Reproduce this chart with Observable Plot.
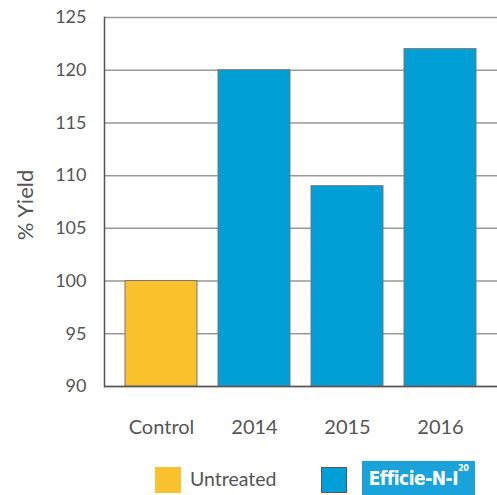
<!DOCTYPE html>
<html>
<head>
<meta charset="utf-8">
<script src="https://cdn.jsdelivr.net/npm/d3@7"></script>
<script src="https://cdn.jsdelivr.net/npm/@observablehq/plot@0.6"></script>
<style>
  html, body { margin: 0; padding: 0; background: #fff; }
  body { width: 497px; height: 495px; overflow: hidden; font-family: Lato, "Open Sans", sans-serif; }
  #legend { position: relative; height: 55px; }
  .sw { position: absolute; box-sizing: border-box; }
  .lt { position: absolute; font-size: 19.5px; color: #555; }
</style>
</head>
<body>
<div id="chart"></div>
<div id="legend">
  <div class="sw" style="left:155px; top:27px; width:26px; height:26px; background:#F9C12B;"></div>
  <div class="lt" style="left:190px; top:27px;">Untreated</div>
  <div class="sw" style="left:321px; top:27px; width:26px; height:26px; background:#00A0D6; border:1.5px solid #555;"></div>
  <div class="sw" style="left:362px; top:21px; width:113px; height:34px; background:#1AA3DA; color:#fff; font-family:'DejaVu Sans Condensed','Liberation Sans Narrow',sans-serif; font-weight:bold; font-size:19px; line-height:34px; text-align:center; letter-spacing:-0.5px;">Efficie-N-I<sup style="font-size:9px; vertical-align:top; line-height:14px;">20</sup></div>
</div>
<script>
const categories = ["Control", "2014", "2015", "2016"];
const values = [100, 120, 109, 122];
const groups = ["Untreated", "Treated", "Treated", "Treated"];
const yTicks = [90, 95, 100, 105, 110, 115, 120, 125];

const data = categories.map((c, i) => ({category: c, value: values[i], group: groups[i]}));

const chart = Plot.plot({
  width: 497,
  height: 440,
  marginTop: 17,
  marginBottom: 54,
  marginLeft: 104,
  marginRight: 0,
  style: {fontFamily: "Lato, 'Open Sans', sans-serif", fontSize: "17px", color: "#555", background: "#fff"},
  x: {domain: categories, padding: 0.225, label: null},
  y: {domain: [90, 125], label: null},
  color: {domain: ["Untreated", "Treated"], range: ["#F9C12B", "#00A0D6"]},
  marks: [
    Plot.ruleY(yTicks, {stroke: "#999", strokeWidth: 1.5, strokeOpacity: 1}),
    Plot.barY(data, {x: "category", y1: 90, y2: "value", fill: "group", stroke: "#777", strokeWidth: 1}),
    Plot.ruleY([90], {stroke: "#555", strokeWidth: 1.5}),
    Plot.frame({anchor: "left", stroke: "#555", strokeWidth: 1.5}),
    Plot.axisY(yTicks, {tickSize: 0, tickPadding: 18, fontSize: 18, fill: "#555", label: null}),
    Plot.axisX({tickSize: 0, tickPadding: 33, fontSize: 20, fill: "#555", label: null}),
    Plot.text(["% Yield"], {frameAnchor: "left", textAnchor: "middle", dx: -79, dy: 3, rotate: -90, fontSize: 22, fill: "#555"})
  ]
});
document.getElementById("chart").appendChild(chart);
</script>
</body>
</html>
